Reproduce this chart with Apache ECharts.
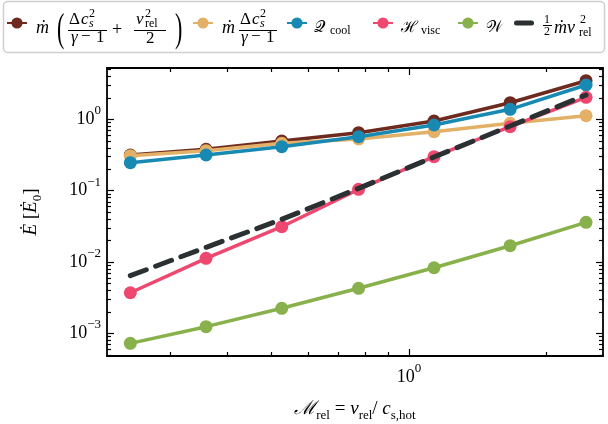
<!DOCTYPE html>
<html>
<head>
<meta charset="utf-8">
<script src="https://cdn.jsdelivr.net/npm/echarts@6/dist/echarts.min.js"></script>
<style>
  html, body { margin: 0; padding: 0; background: #ffffff; }
  #chart { width: 608px; height: 424px; }
</style>
</head>
<body>
<div id="chart"></div>
<script>
// Relative Mach number of each run
const machRel = [0.245, 0.359, 0.526, 0.775, 1.134, 1.665, 2.442];

// Energy rates in units of E0-dot
const eTotal   = [0.317, 0.381, 0.498, 0.651, 0.950, 1.715, 3.49];
const eThermal = [0.310, 0.364, 0.462, 0.531, 0.672, 0.882, 1.127];
const qCool    = [0.247, 0.317, 0.414, 0.572, 0.835, 1.386, 3.04];
const hVisc    = [0.00371, 0.01127, 0.03127, 0.1046, 0.300, 0.790, 2.04];
const wWork    = [0.000724, 0.00124, 0.002244, 0.00428, 0.00832, 0.01694, 0.0360];
const eKin     = [0.00643, 0.01607, 0.0397, 0.108, 0.297, 0.808, 2.20];

// Tick values
const xMajorTicks = [1];
const xMinorTicks = [0.3, 0.4, 0.5, 0.6, 0.7, 0.8, 0.9, 2];
const yMajorTicks = [0.001, 0.01, 0.1, 1];
const yMinorTicks = [
  0.0005, 0.0006, 0.0007, 0.0008, 0.0009,
  0.002, 0.003, 0.004, 0.005, 0.006, 0.007, 0.008, 0.009,
  0.02, 0.03, 0.04, 0.05, 0.06, 0.07, 0.08, 0.09,
  0.2, 0.3, 0.4, 0.5, 0.6, 0.7, 0.8, 0.9,
  2, 3, 4, 5
];

const xRange = [0.2178, 2.66];
const yRange = [4.81e-4, 5.26];

const SERIF = '"Liberation Serif", "DejaVu Serif", serif';
const COLORS = {
  total: '#6e2a1f', thermal: '#e2b066', cool: '#1789b3',
  visc: '#ee4870', work: '#88b14b', kin: '#2b3132'
};

const chart = echarts.init(document.getElementById('chart'), null, { renderer: 'canvas' });

function expLabel(v) {
  const e = Math.round(Math.log10(v));
  return '{b|10}{e|' + (e < 0 ? '\u2212' + (-e) : String(e)) + '}';
}
const tickRich = {
  b: { fontFamily: SERIF, fontSize: 18, color: '#000', lineHeight: 30, verticalAlign: 'middle' },
  e: { fontFamily: SERIF, fontSize: 13, color: '#000', lineHeight: 16, verticalAlign: 'top' }
};

function logAxis(pos, ticks, len, opts) {
  const horizontal = pos === 'bottom' || pos === 'top';
  return Object.assign({
    type: 'log', logBase: 10, position: pos,
    gridIndex: 0,
    min: horizontal ? xRange[0] : yRange[0],
    max: horizontal ? xRange[1] : yRange[1],
    axisLine: { show: false, onZero: false },
    axisTick: { show: true, inside: true, length: len, customValues: ticks,
                lineStyle: { color: '#000', width: 1.2 } },
    axisLabel: { show: false, customValues: ticks },
    splitLine: { show: false },
    minorTick: { show: false },
    silent: true
  }, opts || {});
}
const frameLine = { show: true, onZero: false, lineStyle: { color: '#000', width: 1.8 } };

const xAxes = [
  logAxis('bottom', xMajorTicks, 7, {
    axisLine: frameLine,
    axisLabel: { show: true, customValues: xMajorTicks, margin: 6, formatter: expLabel, rich: tickRich },
    name: '{i|\u2133}{s|rel}{n| = }{i|v}{s|rel}{n|/ }{i|c}{s|s,hot}',
    nameLocation: 'middle', nameGap: 40,
    nameTextStyle: {
      rich: {
        i: { fontFamily: SERIF, fontStyle: 'italic', fontSize: 19, color: '#000', lineHeight: 26 },
        n: { fontFamily: SERIF, fontSize: 19, color: '#000', lineHeight: 26 },
        s: { fontFamily: SERIF, fontSize: 13, color: '#000', lineHeight: 17, verticalAlign: 'bottom' }
      }
    }
  }),
  logAxis('bottom', xMinorTicks, 4),
  logAxis('top', xMajorTicks, 7, { axisLine: frameLine }),
  logAxis('top', xMinorTicks, 4)
];
const yAxes = [
  logAxis('left', yMajorTicks, 7, {
    axisLine: frameLine,
    axisLabel: { show: true, customValues: yMajorTicks, margin: 6, formatter: expLabel, rich: tickRich },
    name: '{i|\u0116} [{i|\u0116}{s|0}]',
    nameLocation: 'middle', nameGap: 63, nameRotate: 90,
    nameTextStyle: {
      fontFamily: SERIF, fontSize: 19, color: '#000',
      rich: {
        i: { fontFamily: SERIF, fontStyle: 'italic', fontSize: 19, color: '#000', lineHeight: 26 },
        s: { fontFamily: SERIF, fontSize: 13, color: '#000', lineHeight: 17, verticalAlign: 'bottom' }
      }
    }
  }),
  logAxis('left', yMinorTicks, 4),
  logAxis('right', yMajorTicks, 7, { axisLine: frameLine }),
  logAxis('right', yMinorTicks, 4)
];

function pairs(ys) { return machRel.map((x, i) => [x, ys[i]]); }
function markerSeries(name, ys, z) {
  return {
    type: 'line', name: name, data: pairs(ys), xAxisIndex: 0, yAxisIndex: 0,
    symbol: 'circle', symbolSize: 13, showSymbol: true, z: z,
    lineStyle: { color: COLORS[name], width: 3.5 },
    itemStyle: { color: COLORS[name], borderWidth: 0 },
    emphasis: { disabled: true }, animation: false
  };
}

const series = [
  markerSeries('total', eTotal, 2),
  markerSeries('thermal', eThermal, 3),
  markerSeries('cool', qCool, 4),
  markerSeries('visc', hVisc, 5),
  markerSeries('work', wWork, 6),
  {
    type: 'line', name: 'kin', data: pairs(eKin), xAxisIndex: 0, yAxisIndex: 0,
    symbol: 'none', z: 7,
    lineStyle: { color: COLORS.kin, width: 5, type: [17, 10], cap: 'round' },
    itemStyle: { color: COLORS.kin },
    emphasis: { disabled: true }, animation: false
  }
];

// Legend handles: one legend box per entry so every handle sits in its slot
const legendSlots = [
  ['total', 6], ['thermal', 192], ['cool', 286], ['visc', 372], ['work', 457]
];
const legendBase = {
  orient: 'horizontal', itemGap: 0, padding: 0,
  selectedMode: false, formatter: () => '', textStyle: { fontSize: 1 }, z: 5
};
const legends = legendSlots.map(([name, left]) => Object.assign({
  data: [name], left: left, top: 16, itemWidth: 20, itemHeight: 14
}, legendBase));
// the dashed series gets a plain rounded bar as its handle
legends.push(Object.assign({
  data: [{ name: 'kin', icon: 'path://M2.5,0 L17.5,0 A2.5,2.5 0 0 1 17.5,5 L2.5,5 A2.5,2.5 0 0 1 2.5,0 Z' }],
  left: 514, top: 20.5, itemWidth: 20, itemHeight: 5
}, legendBase));

// Legend label typesetting
function tx(text, x, y, size, italic, extra) {
  return Object.assign({
    type: 'text', x: x, y: y, z: 6, silent: true,
    style: {
      text: text, fill: '#000',
      font: (italic ? 'italic ' : '') + size + 'px ' + SERIF,
      align: 'left', verticalAlign: 'middle'
    }
  }, extra || {});
}
function bar(x1, x2, y) {
  return { type: 'line', z: 6, silent: true, shape: { x1: x1, y1: y, x2: x2, y2: y },
           style: { stroke: '#000', lineWidth: 1 } };
}
function paren(ch, x) {
  return tx(ch, x, 30, 40, false, { scaleX: 0.55, originX: 0, originY: 0 });
}

const B = 28;   // middle line of the main legend glyphs
const labels = [
  // m-dot ( dc_s^2/(gamma-1) + v_rel^2/2 )
  tx('\u1E41', 36, B, 18, true),
  paren('(', 57),
  tx('\u0394', 69, 20, 17, false), tx('c', 81, 20, 17, true),
  tx('2', 89, 14, 12, false), tx('s', 89, 24, 12, true),
  bar(68, 107, 30.5),
  tx('\u03B3', 71, 38, 17, true), tx('\u2212', 81, 37, 17, false), tx('1', 96, 38, 17, false),
  tx('+', 112, 30, 18, false),
  tx('v', 136, 20, 17, true), tx('2', 145, 14, 12, false), tx('rel', 145, 24, 12, false),
  bar(134, 166, 30.5),
  tx('2', 146, 39, 17, false),
  paren(')', 175),

  // m-dot dc_s^2/(gamma-1)
  tx('\u1E41', 222, B, 18, true),
  tx('\u0394', 240, 20, 17, false), tx('c', 252, 20, 17, true),
  tx('2', 260, 14, 12, false), tx('s', 260, 24, 12, true),
  bar(239, 277, 30.5),
  tx('\u03B3', 241, 38, 17, true), tx('\u2212', 251, 37, 17, false), tx('1', 266, 38, 17, false),

  // Q_cool
  tx('\uD835\uDCAC', 314, B, 16, false), tx('cool', 330, 31, 12, false),
  // H_visc
  tx('\u210B', 401, B, 16, false), tx('visc', 421, 31, 12, false),
  // W
  tx('\uD835\uDCB2', 486, B, 16, false),
  // 1/2 m-dot v_rel^2
  tx('1', 544, 20, 12, false), bar(543, 552, 25.5), tx('2', 544, 32, 12, false),
  tx('\u1E41', 554, B, 18, true), tx('v', 567, B, 18, true),
  tx('2', 580, 20, 12, false), tx('rel', 579, 33, 12, false)
];

const frame = {
  type: 'rect', z: 0, silent: true,
  shape: { x: 3.5, y: 1.5, width: 601, height: 51, r: 4 },
  style: { fill: '#ffffff', stroke: '#cfcfcf', lineWidth: 1.5 }
};

chart.setOption({
  animation: false,
  backgroundColor: '#ffffff',
  grid: { left: 107, right: 5, top: 68, bottom: 68, containLabel: false, outerBoundsMode: 'none' },
  xAxis: xAxes,
  yAxis: yAxes,
  legend: legends,
  graphic: { elements: [frame].concat(labels) },
  series: series
});
</script>
</body>
</html>
